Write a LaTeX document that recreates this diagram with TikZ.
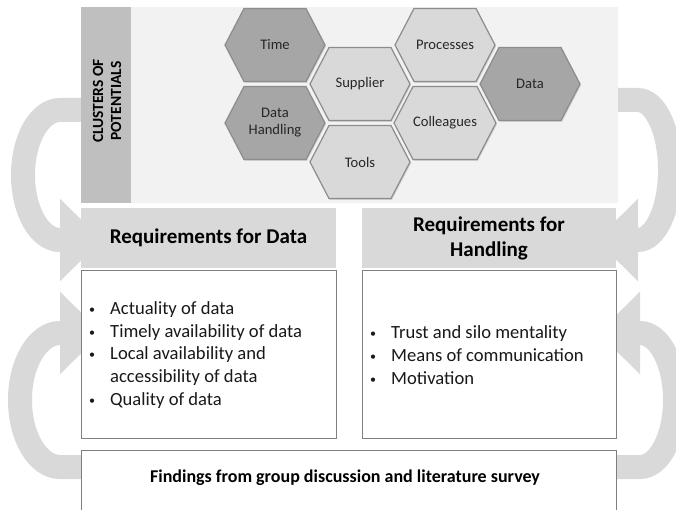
\documentclass[tikz,border=0pt]{standalone}
\usepackage{fontspec}
\setmainfont{Carlito}
\usepackage{xcolor}
\usetikzlibrary{shapes, shapes.symbols, shadows, arrows.meta, positioning}

\definecolor{panelgray}{HTML}{F2F2F2}
\definecolor{stripgray}{HTML}{BFBFBF}
\definecolor{headgray}{HTML}{D9D9D9}
\definecolor{hexdark}{HTML}{A6A6A6}
\definecolor{hexlight}{HTML}{D9D9D9}
\definecolor{hexline}{HTML}{8C8C8C}
\definecolor{cyclegray}{HTML}{D9D9D9}
\definecolor{boxline}{HTML}{7F7F7F}

\newcommand{\itm}{\makebox[22pt][l]{\hspace*{1pt}\raisebox{1pt}{\fontsize{12}{12}\selectfont\textbullet}}}

\begin{document}
\begin{tikzpicture}[x=1pt, y=-1pt,
	hexa/.style={shape=signal, signal to=east and west, signal pointer angle=125,
		minimum width=100pt, minimum height=73pt, inner sep=0pt, draw=hexline, line width=1.2pt,
		font=\fontsize{14.6}{17}\selectfont, align=center, text=black!85,
		drop shadow={opacity=0.25, shadow xshift=1pt, shadow yshift=-1.5pt}},
	hexdk/.style={hexa, fill=hexdark},
	hexlt/.style={hexa, fill=hexlight},
	cyclearrow/.style={draw=cyclegray, line width=24pt, -{Triangle[length=42pt, width=80pt]}},
	header/.style={fill=headgray, minimum height=60pt, inner sep=0pt,
		font=\fontsize{21}{25}\selectfont\bfseries, align=center},
	listbox/.style={draw=boxline, fill=white, minimum height=168pt, inner sep=0pt},
	listtext/.style={anchor=west, inner sep=0pt, align=left, text=black!90,
		font=\fontsize{18.6}{22.7}\selectfont}]
			\useasboundingbox (0,0) rectangle (676,510);
			\clip (0,0) rectangle (676,510);

			%% Cycle arrows
			\draw[cyclearrow] (100,110) -- (60,110)
				arc[start angle=270, end angle=90, x radius=37, y radius=65] -- (102,240);
			\draw[cyclearrow] (100,467) -- (60,467)
				arc[start angle=90, end angle=270, x radius=40, y radius=67] -- (102,333);
			\draw[cyclearrow] (600,100) -- (638,100)
				arc[start angle=270, end angle=450, x radius=32, y radius=70] -- (596,240);
			\draw[cyclearrow] (600,467) -- (640,467)
				arc[start angle=90, end angle=-90, x radius=35, y radius=67] -- (598,333);

			%% Clusters of potentials
			\node[fill=panelgray, minimum width=537pt, minimum height=196pt, inner sep=0pt]
				(panel) at (349.5,105) {};
			\node[fill=stripgray, minimum width=50pt, minimum height=196pt, inner sep=0pt]
				(strip) at (106,105) {};
			\node[rotate=90, inner sep=0pt, font=\fontsize{15.5}{18}\selectfont\bfseries, align=center]
				(clusters) at (107,101) {CLUSTERS OF\\POTENTIALS};

			%% Hexagons
			\node[hexdk] (time) at (275,45) {Time};
			\node[hexdk] (handling) at (275,123) {Data\\Handling};
			\node[hexlt] (supplier) at (360,84) {Supplier};
			\node[hexlt] (tools) at (360,162) {Tools};
			\node[hexlt] (processes) at (445,45) {Processes};
			\node[hexlt] (colleagues) at (445,123) {Colleagues};
			\node[hexdk] (data) at (530,84) {Data};

			%% Requirements
			\node[header, minimum width=255pt] (reqdata) at (208.5,238) {Requirements for Data};
			\node[header, minimum width=254pt] (reqhandling) at (489,238) {Requirements for\\Handling};
			\node[listbox, minimum width=255pt] (boxdata) at (208.5,354) {};
			\node[listbox, minimum width=254pt] (boxhandling) at (489,354) {};
			\node[listtext] (listdata) at (88,355)
				{\itm Actuality of data\\ \itm Timely availability of data\\ \itm Local availability and\\
				 \hspace*{22pt}accessibility of data\\ \itm Quality of data};
			\node[listtext] (listhandling) at (369,355)
				{\itm Trust and silo mentality\\ \itm Means of communication\\ \itm Motivation};

			%% Findings
			\node[draw=boxline, fill=white, minimum width=535pt, minimum height=90pt, inner sep=0pt,
				anchor=north west] (findings) at (81,450) {};
			\node[font=\fontsize{18}{22}\selectfont\bfseries] (findingstext) at (345,478)
				{Findings from group discussion and literature survey};
\end{tikzpicture}
\end{document}
